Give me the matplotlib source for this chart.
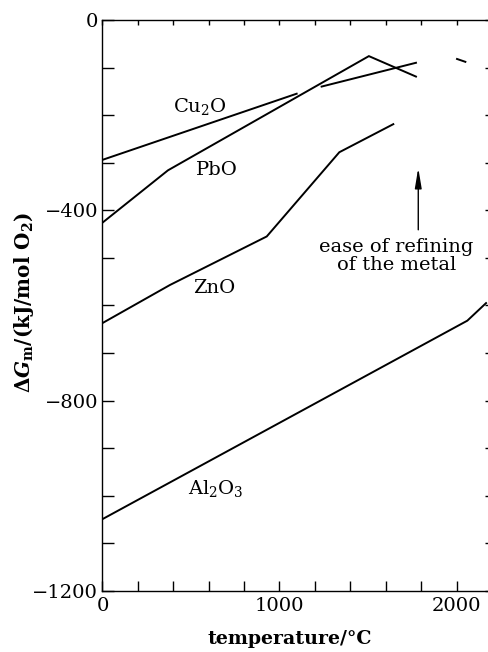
import matplotlib
matplotlib.use("Agg")
import matplotlib.pyplot as plt
from matplotlib.ticker import MultipleLocator, FuncFormatter

plt.rcParams['font.family'] = ['DejaVu Serif']
plt.rcParams['mathtext.fontset'] = 'dejavuserif'

# data (temperature in degC, Delta G in kJ/mol O2)
cu2o_t1 = [0, 1097]
cu2o_g1 = [-294, -155]
cu2o_t2 = [1238, 1771]
cu2o_g2 = [-140, -90]
pbo_t = [0, 370, 1505, 1771]
pbo_g = [-426, -316, -76, -119]
zno_t = [0, 381, 928, 1338, 1643]
zno_g = [-637, -557, -455, -278, -219]
al2o3_t = [0, 2061, 2167]
al2o3_g = [-1049, -632, -595]
frag_t = [2003, 2050]
frag_g = [-82, -88]

labels = [r'Cu$_2$O', 'PbO', 'ZnO', r'Al$_2$O$_3$']
label_t = [551, 647, 630, 641]
label_g = [-181, -315, -563, -984]

fig = plt.figure(figsize=(4.88, 6.52), dpi=100)
ax = fig.add_axes([0.2100, 0.0936, 0.798, 0.8758])

lw = 1.4
kw = dict(color='black', lw=lw, solid_joinstyle='miter')
ax.plot(cu2o_t1, cu2o_g1, **kw)
ax.plot(cu2o_t2, cu2o_g2, **kw)
ax.plot(pbo_t, pbo_g, **kw)
ax.plot(zno_t, zno_g, **kw)
ax.plot(al2o3_t, al2o3_g, **kw)
ax.plot(frag_t, frag_g, **kw)

for s, x, y in zip(labels, label_t, label_g):
    ax.text(x, y, s, fontsize=14, ha='center', va='center')

ax.annotate('', xy=(1784, -311), xytext=(1784, -441),
            arrowprops=dict(arrowstyle='-|>,head_length=0.6,head_width=0.1',
                            mutation_scale=20, color='black', lw=1.0,
                            shrinkA=0, shrinkB=0))
ax.text(1662, -496, 'ease of refining\nof the metal', fontsize=14,
        ha='center', va='center', linespacing=1.0)

ax.set_xlim(0, 2200)
ax.set_ylim(-1200, 0)

ax.xaxis.set_major_locator(MultipleLocator(200))
ax.yaxis.set_major_locator(MultipleLocator(100))
ax.xaxis.set_major_formatter(FuncFormatter(lambda v, p: f'{v:.0f}' if abs(v % 1000) < 1e-6 else ''))
ax.yaxis.set_major_formatter(FuncFormatter(lambda v, p: (f'{v:.0f}'.replace('-', '\u2212')) if abs(v % 400) < 1e-6 else ''))

ax.tick_params(axis='x', direction='in', length=7.5, width=1.0, pad=4, labelsize=14)
ax.tick_params(axis='y', direction='in', length=8.5, width=1.0, pad=3, labelsize=14)

for sp in ax.spines.values():
    sp.set_linewidth(1.0)
ax.spines['top'].set_visible(False)
ax.spines['right'].set_visible(False)

top = ax.secondary_xaxis('top')
top.xaxis.set_major_locator(MultipleLocator(200))
top.tick_params(direction='in', length=3.8, width=1.0, labeltop=False)
top.spines['top'].set_linewidth(1.0)
right = ax.secondary_yaxis('right')
right.yaxis.set_major_locator(MultipleLocator(100))
right.tick_params(direction='in', length=5, width=1.0, labelright=False)
right.spines['right'].set_linewidth(1.0)

ax.set_xlabel('temperature/°C', fontsize=13.7, fontweight='bold')
ax.xaxis.set_label_coords((290 - 102.5) / 389.4, -0.068)
ax.set_ylabel('Δ' + r'$\mathbfit{G}_{\mathbf{m}}$' + '/(kJ/mol O' + r'$_\mathbf{2}$' + ')',
              fontsize=14.3, fontweight='bold')
ax.yaxis.set_label_coords(-(102.5 - 36) / 389.4, 0.506)

fig.savefig('out.png', dpi=100)
